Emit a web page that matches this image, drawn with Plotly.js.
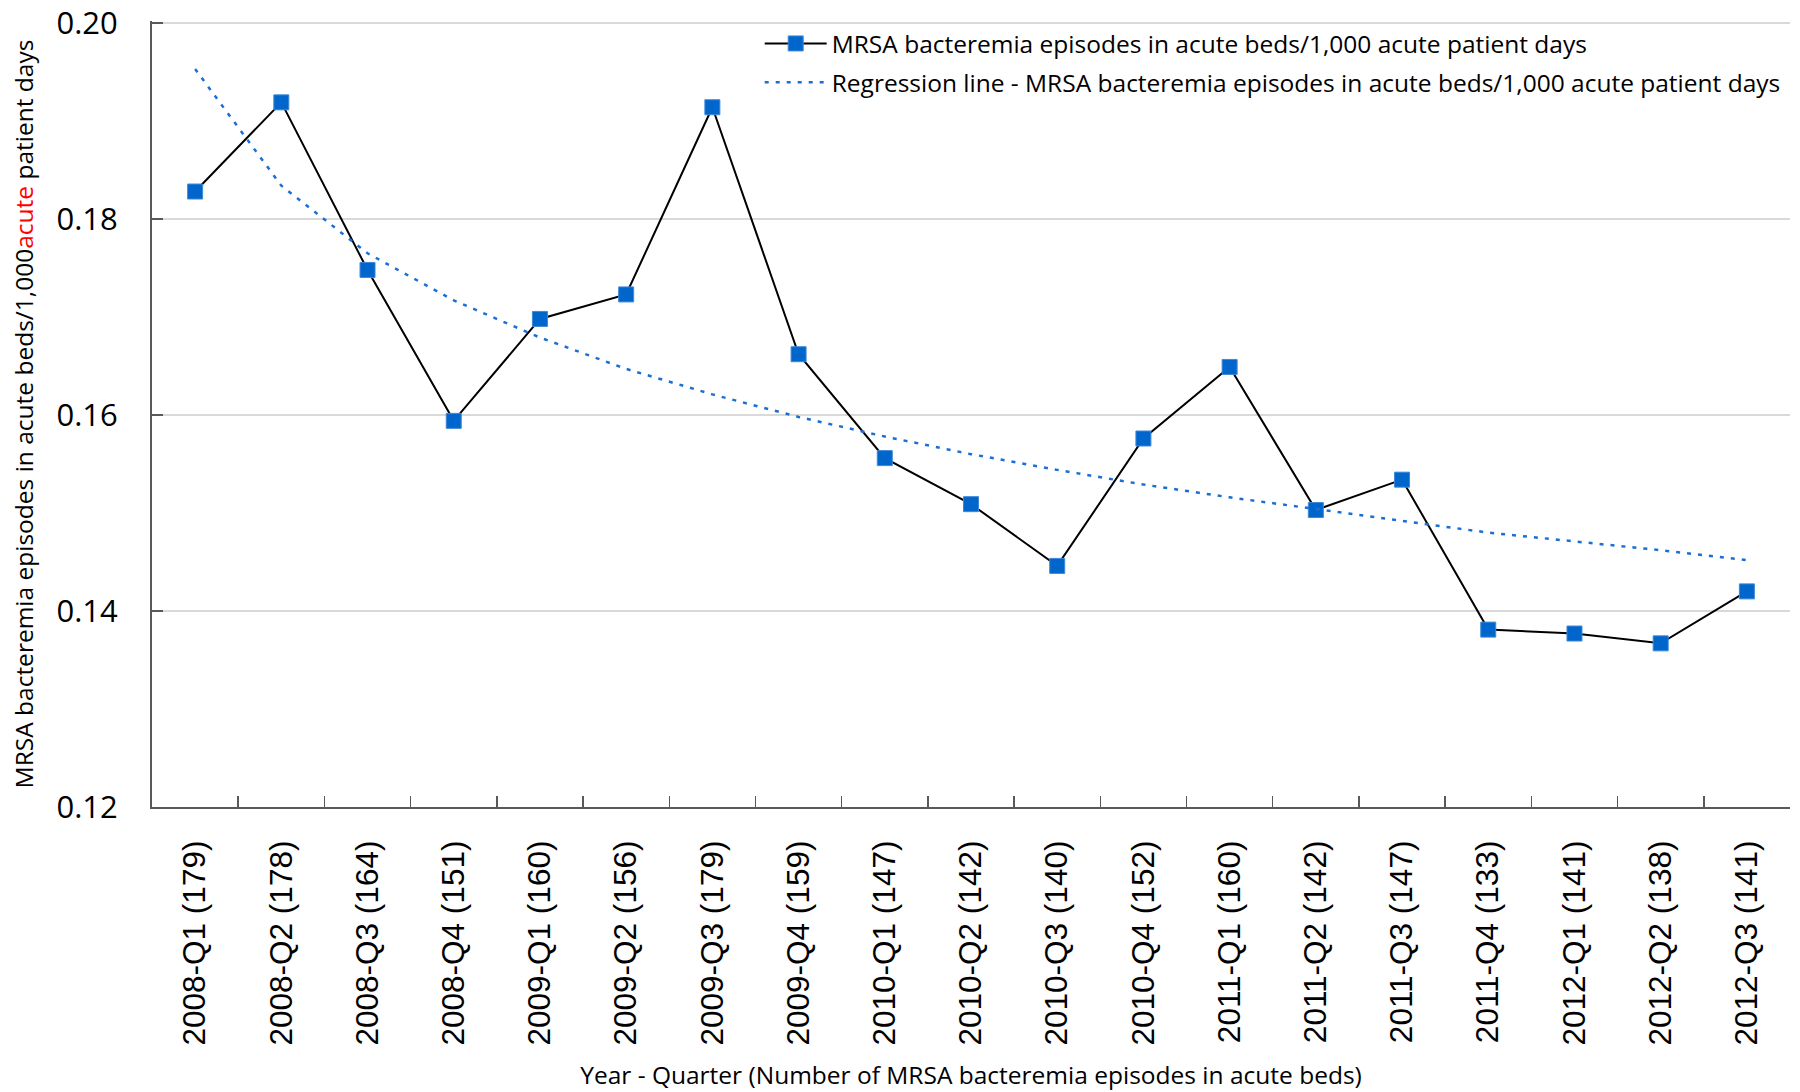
<!DOCTYPE html>
<html>
<head>
<meta charset="utf-8">
<script src="https://cdn.plot.ly/plotly-3.0.1.min.js"></script>
<style>
  html, body { margin: 0; padding: 0; background: #ffffff; }
  #chart { width: 1800px; height: 1092px; }
</style>
</head>
<body>
<div id="chart"></div>
<script>
// Categories (Year - Quarter with number of episodes)
const quarters = [
  "2008-Q1 (179)", "2008-Q2 (178)", "2008-Q3 (164)", "2008-Q4 (151)",
  "2009-Q1 (160)", "2009-Q2 (156)", "2009-Q3 (179)", "2009-Q4 (159)",
  "2010-Q1 (147)", "2010-Q2 (142)", "2010-Q3 (140)", "2010-Q4 (152)",
  "2011-Q1 (160)", "2011-Q2 (142)", "2011-Q3 (147)", "2011-Q4 (133)",
  "2012-Q1 (141)", "2012-Q2 (138)", "2012-Q3 (141)"
];

// MRSA bacteremia episodes in acute beds / 1,000 acute patient days
const rateValues = [
  0.1828, 0.1919, 0.1748, 0.1594, 0.1698, 0.1723, 0.1914, 0.1662,
  0.1556, 0.1509, 0.1446, 0.1576, 0.1649, 0.1503, 0.1534, 0.1381,
  0.1377, 0.1367, 0.1420
];

// Regression line values
const regressionValues = [
  0.1953, 0.1834, 0.1765, 0.1717, 0.1679, 0.1647, 0.1621, 0.1598,
  0.1578, 0.1560, 0.1544, 0.1529, 0.1516, 0.1504, 0.1492, 0.1480,
  0.1471, 0.1462, 0.1452
];

// Y-axis tick values
const yTicks = [0.12, 0.14, 0.16, 0.18, 0.20];
const yTickText = ["0.12", "0.14", "0.16", "0.18", "0.20"];

const seriesName = "MRSA bacteremia episodes in acute beds/1,000 acute patient days";
const regressionName = "Regression line - MRSA bacteremia episodes in acute beds/1,000 acute patient days";
const yTitle = "MRSA bacteremia episodes in acute beds/1,000<span style='color:#ff0000'>acute</span> patient days";
const xTitle = "Year - Quarter (Number of MRSA bacteremia episodes in acute beds)";

const traces = [
  {
    x: quarters,
    y: rateValues,
    name: seriesName,
    type: "scatter",
    mode: "lines+markers",
    legendgroup: "a",
    line: { color: "#000000", width: 2 },
    marker: { symbol: "square", size: 15, color: "#0066cc", line: { color: "#3f88d8", width: 1 } },
    cliponaxis: false
  },
  {
    x: quarters,
    y: regressionValues,
    name: regressionName,
    type: "scatter",
    mode: "lines",
    legendgroup: "b",
    line: { color: "#1a6fd6", width: 2.5, dash: "4px,7px" },
    cliponaxis: false
  }
];

const layout = {
  width: 1800,
  height: 1092,
  paper_bgcolor: "#ffffff",
  plot_bgcolor: "#ffffff",
  margin: { l: 152, r: 10, t: 21, b: 285, pad: 0 },
  font: { family: "Open Sans, sans-serif", color: "#000000" },
  showlegend: true,
  legend: {
    x: 0.371, xanchor: "left",
    y: 1.0, yanchor: "top",
    bgcolor: "rgba(0,0,0,0)",
    font: { family: "Open Sans, sans-serif", size: 24.5, color: "#000000" },
    itemwidth: 62,
    traceorder: "grouped",
    tracegroupgap: 4
  },
  xaxis: {
    type: "category",
    range: [-0.5, 18.5],
    tickson: "boundaries",
    ticks: "inside",
    ticklen: 11,
    tickwidth: 1.5,
    tickcolor: "#595959",
    showline: true,
    linecolor: "#595959",
    linewidth: 2,
    showgrid: false,
    zeroline: false,
    tickangle: -90,
    ticklabelstandoff: 19,
    tickfont: { family: "Liberation Sans, Arial, sans-serif", size: 31.5, color: "#000000" },
    title: {
      text: xTitle,
      font: { family: "Open Sans, sans-serif", size: 24.5, color: "#000000" },
      standoff: 22
    },
    automargin: false
  },
  yaxis: {
    range: [0.12, 0.2002],
    tickmode: "array",
    tickvals: yTicks,
    ticktext: yTickText,
    ticks: "inside",
    ticklen: 11,
    tickwidth: 1.5,
    tickcolor: "#595959",
    showline: true,
    linecolor: "#595959",
    linewidth: 2,
    showgrid: true,
    gridcolor: "#d9d9d9",
    gridwidth: 1.5,
    zeroline: false,
    ticklabelstandoff: 26,
    ticklabeloverflow: "allow",
    tickfont: { family: "Open Sans, sans-serif", size: 31, color: "#000000" },
    title: {
      text: yTitle,
      font: { family: "Open Sans, sans-serif", size: 24.5, color: "#000000" },
      standoff: 16
    },
    automargin: false
  }
};

Plotly.newPlot("chart", traces, layout, { displayModeBar: false, staticPlot: true });
</script>
</body>
</html>
